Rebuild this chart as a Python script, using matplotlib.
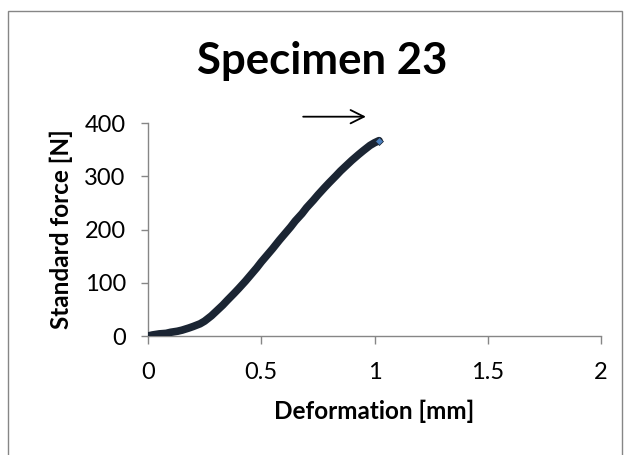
import matplotlib
matplotlib.use("Agg")
import matplotlib.pyplot as plt
from matplotlib.patches import Rectangle

plt.rcParams['font.family'] = ['Lato', 'DejaVu Sans']

title = "Specimen 23"
xlabel = "Deformation [mm]"
ylabel = "Standard force [N]"

deformation = [0.0, 0.02, 0.05, 0.08, 0.10, 0.13, 0.15, 0.18, 0.20, 0.23, 0.25,
               0.28, 0.30, 0.33, 0.35, 0.38, 0.40, 0.43, 0.45, 0.48, 0.50,
               0.53, 0.55, 0.58, 0.60, 0.63, 0.65, 0.68, 0.70, 0.73, 0.75,
               0.78, 0.80, 0.83, 0.85, 0.88, 0.90, 0.93, 0.95, 0.98, 1.00, 1.02]
force = [0, 2, 4, 5, 7, 9, 11, 15, 18, 23, 28,
         38, 46, 58, 67, 80, 89, 103, 113, 128, 139,
         154, 164, 180, 190, 205, 216, 230, 241, 255, 265,
         279, 288, 301, 310, 322, 330, 341, 348, 358, 363, 367]

xticks = [0, 0.5, 1, 1.5, 2]
xticklabels = ["0", "0.5", "1", "1.5", "2"]
yticks = [0, 100, 200, 300, 400]
yticklabels = ["0", "100", "200", "300", "400"]

arrow_start = (0.685, 412)
arrow_end = (0.962, 412)

fig = plt.figure(figsize=(6.29, 4.55), dpi=100)
ax = fig.add_axes([0.2353, 0.2615, 0.7202, 0.468])

ax.plot(deformation, force, color='#1b2533', lw=5.5, solid_capstyle='round', zorder=3)
ax.plot(deformation[-1], force[-1], marker='D', ms=4.5, color='#4a7ebb',
        markeredgecolor='#1b2533', markeredgewidth=0.5, zorder=4)

ax.set_xlim(0, 2)
ax.set_ylim(0, 400)
ax.set_xticks(xticks)
ax.set_xticklabels(xticklabels)
ax.set_yticks(yticks)
ax.set_yticklabels(yticklabels)

for s in ['top', 'right']:
    ax.spines[s].set_visible(False)
for s in ['left', 'bottom']:
    ax.spines[s].set_color('#868686')
    ax.spines[s].set_linewidth(1.0)

ax.tick_params(axis='both', colors='#868686', labelcolor='black', labelsize=17,
               direction='out', width=1.0)
ax.tick_params(axis='x', length=6, pad=13)
ax.tick_params(axis='y', length=5, pad=11)

ax.set_xlabel(xlabel, fontsize=17.5, fontweight='bold', labelpad=12)
ax.set_ylabel(ylabel, fontsize=17.5, fontweight='bold', labelpad=8)

fig.text(0.513, 0.866, title, fontsize=31.5, fontweight='bold', ha='center', va='center')

ax.annotate('', xy=arrow_end, xytext=arrow_start, xycoords='data',
            arrowprops=dict(arrowstyle='->', color='black', lw=1.3,
                            mutation_scale=24, shrinkA=0, shrinkB=0),
            annotation_clip=False)

fig.patches.append(Rectangle((8/629, -0.05), 614/629, (455 - 11)/455 + 0.05,
                             transform=fig.transFigure, fill=False,
                             edgecolor='#868686', lw=1.0))

fig.savefig('out.png', dpi=100)
